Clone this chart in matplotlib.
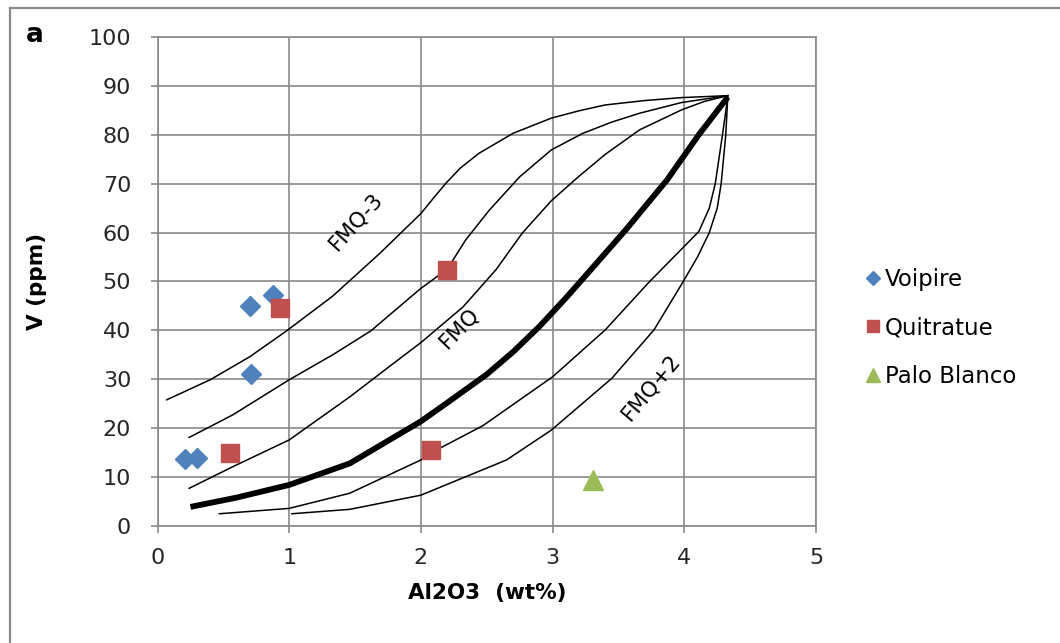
import matplotlib.pyplot as plt
from matplotlib.lines import Line2D

# sample points
voipire_x = [0.21, 0.30, 0.71, 0.70, 0.88]
voipire_y = [13.6, 14.0, 31.0, 45.0, 47.2]
quitratue_x = [0.55, 0.93, 2.08, 2.20]
quitratue_y = [15.0, 44.5, 15.6, 52.4]
palo_x = [3.31]
palo_y = [9.5]

# model curves, top to bottom
c1_x = [0.07, 0.40, 0.70, 0.97, 1.33, 1.69, 2.00, 2.10, 2.19, 2.30, 2.44, 2.70, 2.99, 3.20, 3.40, 3.70, 3.98, 4.33]
c1_y = [25.8, 29.9, 34.6, 39.7, 47.0, 55.8, 63.9, 67.2, 70.1, 73.2, 76.2, 80.3, 83.4, 84.9, 86.1, 87.0, 87.6, 88.0]
c2_x = [0.24, 0.57, 1.00, 1.33, 1.62, 2.00, 2.20, 2.34, 2.52, 2.75, 2.99, 3.23, 3.45, 3.66, 3.98, 4.33]
c2_y = [18.1, 22.7, 29.9, 35.0, 39.9, 48.6, 52.5, 58.5, 64.6, 71.4, 76.9, 80.3, 82.6, 84.4, 86.6, 88.0]
c3_x = [0.24, 0.57, 1.00, 1.46, 1.76, 2.00, 2.32, 2.57, 2.77, 2.99, 3.20, 3.40, 3.66, 3.98, 4.15, 4.33]
c3_y = [7.7, 12.1, 17.6, 26.4, 32.6, 37.5, 44.8, 52.4, 59.9, 66.5, 71.5, 76.0, 81.0, 85.1, 86.8, 88.0]
fmq_x = [0.25, 0.60, 1.00, 1.46, 2.00, 2.20, 2.50, 2.70, 2.90, 3.10, 3.30, 3.56, 3.87, 4.11, 4.33]
fmq_y = [3.9, 5.8, 8.4, 12.8, 21.4, 25.2, 31.0, 35.6, 40.8, 46.6, 52.7, 60.7, 70.8, 80.0, 87.7]
c5_x = [0.47, 1.00, 1.46, 2.00, 2.08, 2.47, 3.00, 3.40, 3.73, 3.92, 4.11, 4.19, 4.235, 4.29, 4.33]
c5_y = [2.5, 3.6, 6.7, 13.5, 15.0, 20.5, 30.5, 40.1, 49.8, 55.0, 60.2, 65.0, 70.0, 80.0, 87.7]
c6_x = [1.02, 1.46, 2.00, 2.37, 2.65, 2.99, 3.45, 3.77, 3.99, 4.10, 4.19, 4.25, 4.28, 4.315, 4.33]
c6_y = [2.5, 3.4, 6.3, 10.4, 13.5, 19.6, 30.2, 40.1, 49.9, 55.0, 60.0, 65.0, 70.0, 80.0, 87.7]

gray = '#8a8a8a'

fig = plt.figure(figsize=(10.6, 6.43), dpi=100)
ax = fig.add_axes([0.1486, 0.182, 0.6212, 0.7605])

ax.grid(True, color=gray, linewidth=1.2)
ax.set_axisbelow(True)

for cx, cy in [(c1_x, c1_y), (c2_x, c2_y), (c3_x, c3_y), (c5_x, c5_y), (c6_x, c6_y)]:
    ax.plot(cx, cy, color='black', linewidth=1.1, zorder=2)
ax.plot(fmq_x, fmq_y, color='black', linewidth=4.2, solid_capstyle='butt', zorder=2)

ax.plot(voipire_x, voipire_y, 'D', color='#4F81BD', markersize=10, label='Voipire', zorder=3)
ax.plot(quitratue_x, quitratue_y, 's', color='#C0504D', markersize=13, label='Quitratue', zorder=4)
ax.plot(palo_x, palo_y, '^', color='#9BBB59', markersize=15, label='Palo Blanco', zorder=3)

ax.text(1.51, 62.3, 'FMQ-3', rotation=48, fontsize=15.5, ha='center', va='center')
ax.text(2.29, 40.6, 'FMQ', rotation=46, fontsize=15.5, ha='center', va='center')
ax.text(3.75, 28.5, 'FMQ+2', rotation=50, fontsize=15.5, ha='center', va='center')

ax.set_xlim(0, 5)
ax.set_ylim(0, 100)
ax.set_xticks(range(0, 6))
ax.set_yticks(range(0, 101, 10))
for s in ax.spines.values():
    s.set_color(gray)
    s.set_linewidth(1.2)
ax.tick_params(direction='out', length=5, width=1.2, color=gray,
               labelsize=16, labelcolor='#262626')
ax.tick_params(axis='y', pad=14)
ax.tick_params(axis='x', pad=11)

ax.set_xlabel('Al2O3  (wt%)', fontsize=15.5, fontweight='bold', labelpad=11)
ax.set_ylabel('V (ppm)', fontsize=15.5, fontweight='bold', labelpad=30)

ax.legend(loc='center left', bbox_to_anchor=(1.045, 0.405), frameon=False,
          fontsize=16.5, markerscale=0.7, handlelength=0.6, handletextpad=0.2,
          labelspacing=1.1)

fig.text(0.033, 0.945, 'a', fontsize=19, fontweight='bold', ha='center', va='center')

# outer frame (left and top only)
fig.add_artist(Line2D([10 / 1060, 10 / 1060], [0, 1 - 8 / 643], color=gray, linewidth=1.6))
fig.add_artist(Line2D([10 / 1060, 1], [1 - 8 / 643, 1 - 8 / 643], color=gray, linewidth=1.6))

fig.savefig('out.png', dpi=100)
